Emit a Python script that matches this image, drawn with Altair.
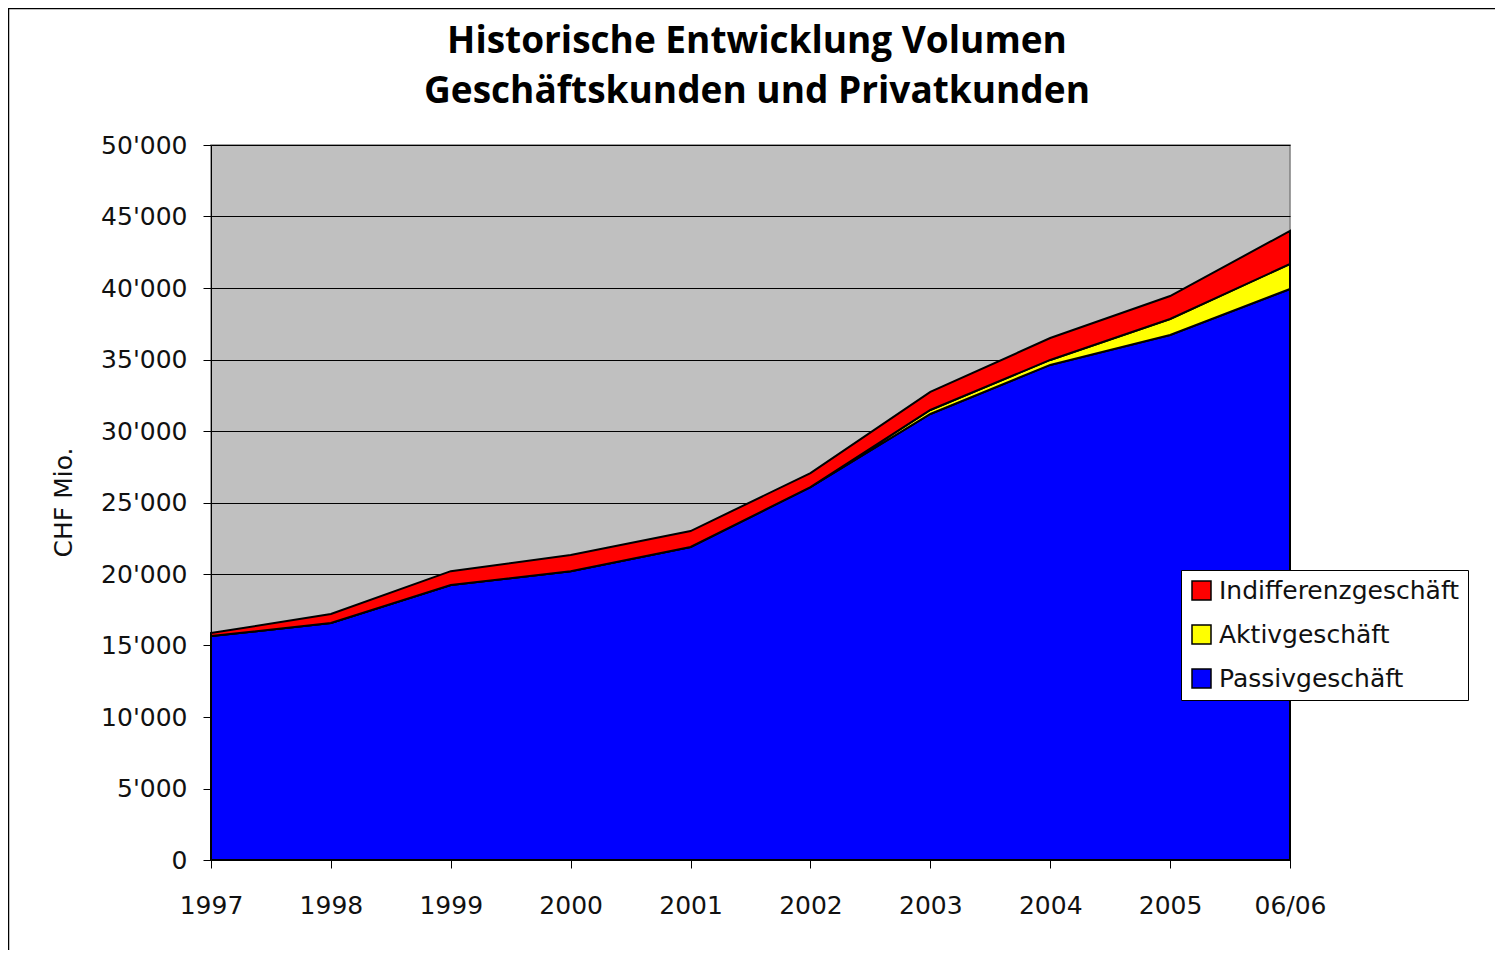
import altair as alt
import pandas as pd

jahre = ["1997", "1998", "1999", "2000", "2001", "2002", "2003", "2004", "2005", "06/06"]
passiv = [15660, 16570, 19230, 20200, 21890, 26080, 31190, 34620, 36710, 39930]
aktiv = [0, 0, 0, 0, 0, 0, 280, 350, 1120, 1750]
indiff = [210, 630, 970, 1130, 1110, 980, 1260, 1530, 1610, 2310]

serien = ["Indifferenzgeschäft", "Aktivgeschäft", "Passivgeschäft"]
farben = ["#FF0000", "#FFFF00", "#0000FF"]

titel = ["Historische Entwicklung Volumen", "Geschäftskunden und Privatkunden"]

rows = []
for i, j in enumerate(jahre):
    rows.append({"Jahr": j, "Serie": "Passivgeschäft", "Wert": passiv[i], "ord": 0})
    rows.append({"Jahr": j, "Serie": "Aktivgeschäft", "Wert": aktiv[i], "ord": 1})
    rows.append({"Jahr": j, "Serie": "Indifferenzgeschäft", "Wert": indiff[i], "ord": 2})
df = pd.DataFrame(rows)

FONT = "DejaVu Sans"
TFONT = "Open Sans"

areas = alt.Chart(df).mark_area(stroke="black", strokeWidth=2, opacity=1).encode(
    x=alt.X("Jahr:O", sort=jahre, scale=alt.Scale(type="point", padding=0),
            axis=alt.Axis(title=None, labelAngle=0, labelFontSize=25, labelFont=FONT,
                          labelColor="#111111", labelPadding=25, tickSize=8,
                          tickColor="black", domainColor="black", grid=False)),
    y=alt.Y("Wert:Q", stack="zero", scale=alt.Scale(domain=[0, 50000], nice=False),
            axis=alt.Axis(title="CHF Mio.", titleFontSize=25, titleFont=FONT,
                          titleFontWeight="normal", titleColor="#111111",
                          titleX=-148, titleY=357, titleAngle=-90, titleAlign="center",
                          titleBaseline="middle",
                          values=list(range(0, 50001, 5000)),
                          labelExpr="replace(format(datum.value, ','), ',', \"'\")",
                          labelFontSize=25, labelFont=FONT, labelColor="#111111",
                          labelPadding=16, tickSize=8, tickColor="black",
                          domainColor="black", grid=True, gridColor="black",
                          gridOpacity=1, gridWidth=1)),
    color=alt.Color("Serie:N", scale=alt.Scale(domain=serien, range=farben),
                    legend=alt.Legend(title=None, orient="none", legendX=970, legendY=425,
                                      labelFontSize=25, labelFont=FONT, labelColor="#111111",
                                      labelLimit=400,
                                      symbolType="square", symbolSize=361,
                                      symbolStrokeColor="black", symbolStrokeWidth=1.5,
                                      symbolOpacity=1,
                                      rowPadding=18, padding=8, strokeColor="black",
                                      fillColor="white", labelOffset=5)),
    order=alt.Order("ord:Q", sort="ascending"),
)

border = alt.Chart(pd.DataFrame({"a": [1]})).mark_rect(
    filled=False, stroke="black", strokeWidth=1.5
).encode(
    x=alt.value(-202.5), x2=alt.value(1400),
    y=alt.value(-136.5), y2=alt.value(900),
)

title_df = pd.DataFrame({"t": titel, "zeile": [0, 1]})
t1 = alt.Chart(title_df).transform_filter("datum.zeile == 0").mark_text(
    font=TFONT, fontSize=37, fontWeight="bold", color="black",
    align="center", baseline="middle"
).encode(text="t:N", x=alt.value(546), y=alt.value(-103))
t2 = alt.Chart(title_df).transform_filter("datum.zeile == 1").mark_text(
    font=TFONT, fontSize=37, fontWeight="bold", color="black",
    align="center", baseline="middle"
).encode(text="t:N", x=alt.value(546), y=alt.value(-53))

chart = alt.layer(areas, border, t1, t2).properties(
    width=1079, height=715,
    background="white",
    autosize=alt.AutoSizeParams(type="none"),
    padding={"left": 203, "top": 137, "right": 205, "bottom": 90},
).configure_view(
    fill="#C0C0C0", stroke="#808080", strokeWidth=1.5
)

chart.save("out.html", embed_options={"renderer": "svg", "actions": False})
